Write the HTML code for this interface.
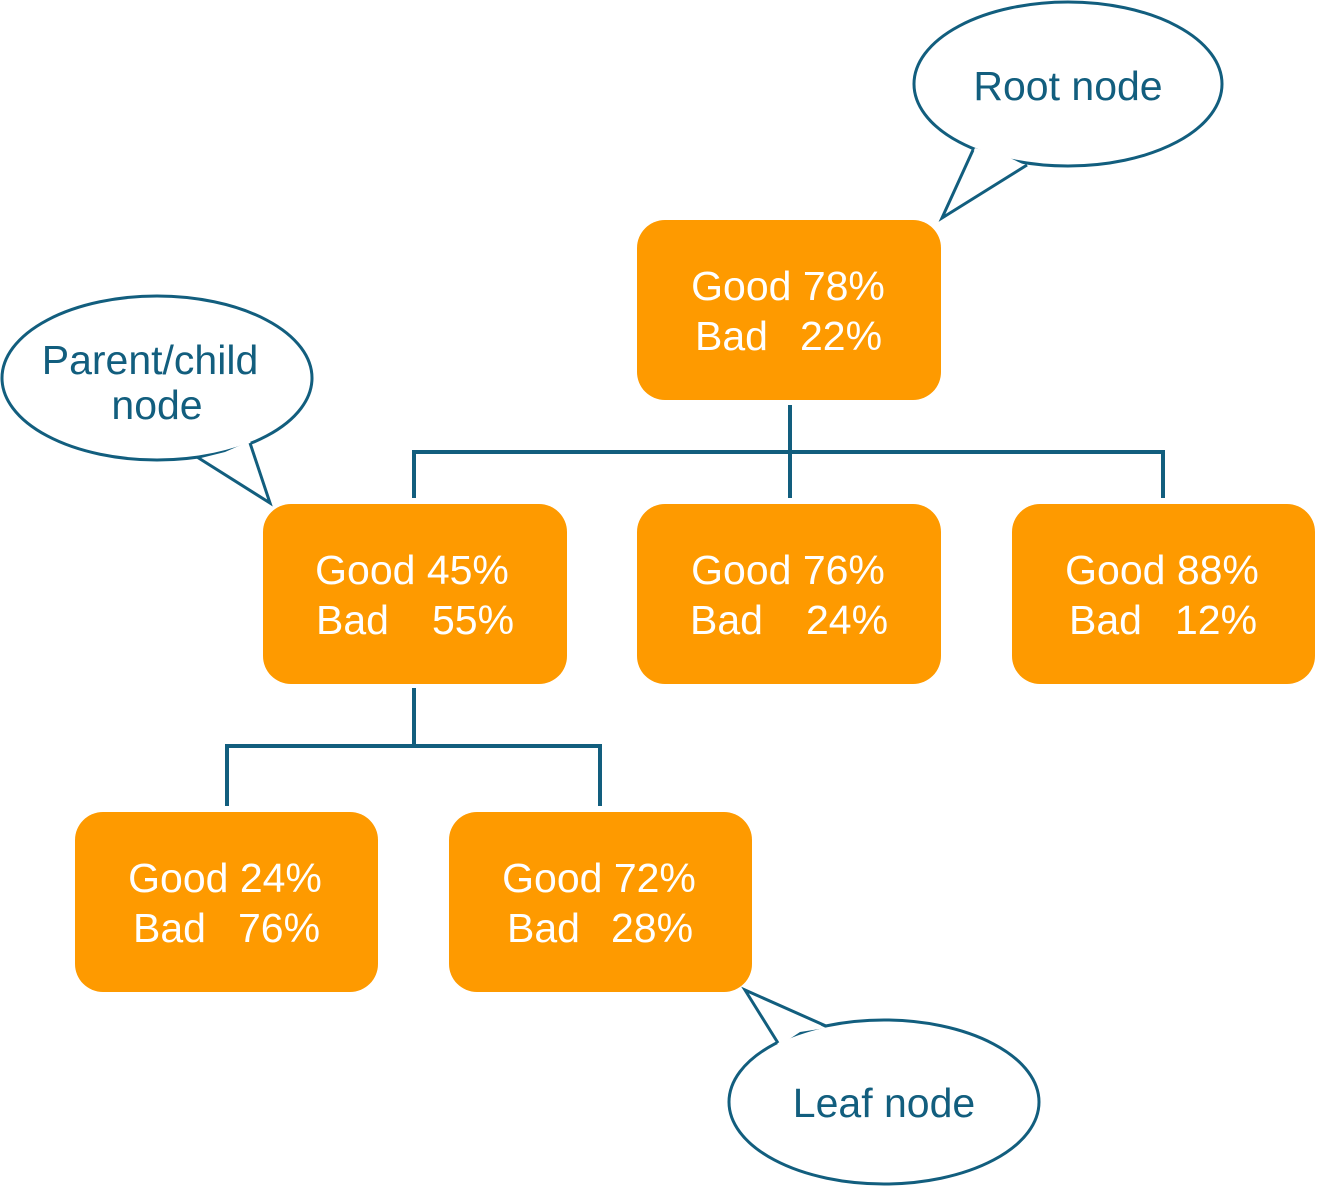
<!DOCTYPE html>
<html><head><meta charset="utf-8"><style>
html,body{margin:0;padding:0;background:#fff;}
svg{display:block;}
text{font-family:"Liberation Sans",Arial,sans-serif;font-size:41px;}
.w{fill:#fff;}
.t{fill:#125E7E;}
</style></head><body>
<svg width="1320" height="1187" viewBox="0 0 1320 1187" xmlns="http://www.w3.org/2000/svg">
<g fill="none" stroke="#125E7E" stroke-width="4">
<path d="M790 405V498M414 498V452H1163V498"/>
<path d="M414 688V746M227 806V746H600V806"/>
</g>
<g fill="#FE9A00">
<rect x="637" y="220" width="304" height="180" rx="28"/>
<rect x="263" y="504" width="304" height="180" rx="28"/>
<rect x="637" y="504" width="304" height="180" rx="28"/>
<rect x="1012" y="504" width="303" height="180" rx="28"/>
<rect x="75" y="812" width="303" height="180" rx="28"/>
<rect x="449" y="812" width="303" height="180" rx="28"/>
</g>
<g class="w">
<text x="788" y="300" text-anchor="middle">Good 78%</text>
<text x="695" y="350">Bad</text><text x="800" y="350">22%</text>
<text x="412" y="584" text-anchor="middle">Good 45%</text>
<text x="316" y="634">Bad</text><text x="432" y="634">55%</text>
<text x="788" y="584" text-anchor="middle">Good 76%</text>
<text x="690" y="634">Bad</text><text x="806" y="634">24%</text>
<text x="1162" y="584" text-anchor="middle">Good 88%</text>
<text x="1069" y="634">Bad</text><text x="1175" y="634">12%</text>
<text x="225" y="892" text-anchor="middle">Good 24%</text>
<text x="133" y="942">Bad</text><text x="238" y="942">76%</text>
<text x="599" y="892" text-anchor="middle">Good 72%</text>
<text x="507" y="942">Bad</text><text x="611" y="942">28%</text>
</g>
<g fill="#fff" stroke="#125E7E" stroke-width="3">
<ellipse cx="1068" cy="84" rx="154" ry="82"/>
<ellipse cx="157" cy="378" rx="155" ry="82"/>
<ellipse cx="884" cy="1102" rx="155" ry="82"/>
</g>
<g fill="#fff" stroke="none">
<polygon points="975,148 942,218 1027,166 1010,158"/>
<polygon points="250,441 270,503 197,459 225,452"/>
<polygon points="779,1046 745,990 826,1028 800,1032"/>
</g>
<g fill="none" stroke="#125E7E" stroke-width="3" stroke-linejoin="miter">
<polyline points="973,150 942,218 1027,165"/>
<polyline points="250,443 270,503 197,457"/>
<polyline points="778,1043 745,990 826,1026"/>
</g>
<g class="t">
<text x="1068" y="100" text-anchor="middle">Root node</text>
<text x="150" y="374" text-anchor="middle">Parent/child</text>
<text x="157" y="419" text-anchor="middle">node</text>
<text x="884" y="1117" text-anchor="middle">Leaf node</text>
</g>
</svg>
</body></html>
